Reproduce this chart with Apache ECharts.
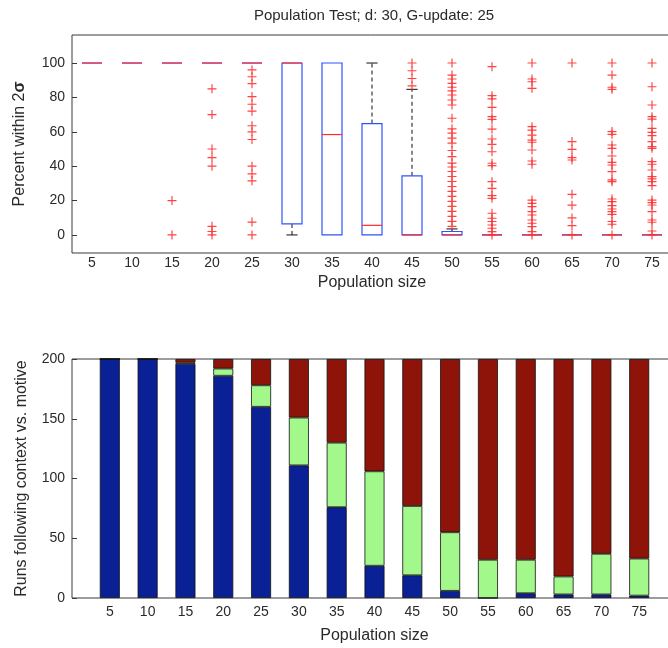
<!DOCTYPE html>
<html>
<head>
<meta charset="utf-8">
<script src="https://cdn.jsdelivr.net/npm/echarts@6/dist/echarts.min.js"></script>
<style>
  html, body { margin: 0; padding: 0; background: #fff; }
  #chart { width: 668px; height: 648px; }
</style>
</head>
<body>
<div id="chart"></div>
<script>
  // population sizes (x categories, both panels)
  var sizes = [5, 10, 15, 20, 25, 30, 35, 40, 45, 50, 55, 60, 65, 70, 75];

  // top panel: box plot stats, percent within 2 sigma
  var boxQ1 = [100, 100, 100, 100, 100, 6.4, 0, 0, 0, 0, 0, 0, 0, 0, 0];
  var boxMedian = [100, 100, 100, 100, 100, 100, 58.4, 5.6, 0, 0, 0, 0, 0, 0, 0];
  var boxQ3 = [100, 100, 100, 100, 100, 100, 100, 64.8, 34.4, 2, 0, 0, 0, 0, 0];
  var whiskerLow = [100, 100, 100, 100, 100, 0, 0, 0, 0, 0, 0, 0, 0, 0, 0];
  var whiskerHigh = [100, 100, 100, 100, 100, 100, 100, 100, 84.7, 3.5, 0, 0, 0, 0, 0];

  // outliers per population size
  var outlierValues = [
    [],
    [],
    [20, 0],
    [85, 70, 50, 45, 40, 5, 2, 0],
    [96, 92, 88, 80.5, 76, 72, 63.5, 60, 55.5, 40, 35.5, 31.5, 7.5, 0],
    [],
    [],
    [],
    [100, 95.5, 91, 86.7],
    [100, 93, 90.7, 88.2, 85.9, 83.8, 81.4, 78.5, 75.6, 67.9, 61.7, 59.2, 56.3, 53.4, 49.1, 45.6, 41.8, 39.5, 36.9, 34, 31.1, 28.2, 25.3, 22.4, 19.5, 16.6, 13.7, 10.8, 7.9, 5],
    [97.9, 81, 79.1, 74.2, 68.8, 67.2, 61.6, 55.8, 52.7, 48.4, 41.7, 40.3, 31, 27.1, 22.9, 21.3, 12.6, 9.7, 7.8, 5.8, 3.9, 1.9, 0],
    [100, 90.7, 89.1, 85.3, 63, 61, 58.1, 55.2, 53.9, 49.4, 43, 41.1, 20.3, 18.4, 16.5, 13.6, 11.6, 8.7, 6.8, 4.8, 1.9, 0],
    [100, 54.3, 49.8, 45, 43.6, 23.6, 17.3, 9.9, 5.4, 0],
    [100, 93, 85.9, 84.7, 60.1, 58.5, 52.3, 50.4, 45.9, 42.2, 40.7, 36.8, 32, 31, 20.9, 19.4, 17.1, 15.1, 13.6, 12, 7.8, 6.2, 0],
    [100, 86.2, 75.6, 68.8, 67.4, 62, 59.7, 57.8, 54.3, 51.4, 50.4, 42.6, 41.1, 37.8, 33.9, 32.6, 31, 28.7, 20.3, 18.8, 17.4, 13.6, 8.7, 7.4, 2.3, 0]
  ];

  // bottom panel: runs (of 200) following context vs. motive
  var blueRuns = [200, 200, 196, 186, 160, 111, 76, 27, 19, 6, 0, 4, 3, 3, 2];
  var greenRuns = [0, 0, 1, 6, 18, 40, 54, 79, 58, 49, 32, 28, 15, 34, 31];
  var redRuns = [0, 0, 3, 8, 22, 49, 70, 94, 123, 145, 168, 168, 182, 163, 167];

  var positions = sizes.map(function (s, i) { return i + 1; });
  // bottom axis runs 0..16 like the original, empty slots at both ends
  var barCats = [''].concat(sizes.map(String), ['']);
  function padded(arr) { return [null].concat(arr, [null]); }

  var fontFam = '"Liberation Sans", Arial, sans-serif';
  var textCol = '#2a2a2a';

  var boxData = positions.map(function (p, i) {
    return [p, boxQ1[i], boxMedian[i], boxQ3[i], whiskerLow[i], whiskerHigh[i]];
  });
  var outlierData = [];
  outlierValues.forEach(function (vals, i) {
    vals.forEach(function (v) { outlierData.push([i + 1, v]); });
  });

  function renderBox(params, api) {
    var x = api.value(0);
    var q1 = api.value(1), med = api.value(2), q3 = api.value(3);
    var lo = api.value(4), hi = api.value(5);
    var hw = 0.25, cw = 0.14;
    var tl = api.coord([x - hw, q3]);
    var br = api.coord([x + hw, q1]);
    var c = api.coord([x, 0])[0];
    var cl = api.coord([x - cw, 0])[0];
    var cr = api.coord([x + cw, 0])[0];
    var yq1 = api.coord([x, q1])[1], yq3 = api.coord([x, q3])[1];
    var ylo = api.coord([x, lo])[1], yhi = api.coord([x, hi])[1];
    var ymed = api.coord([x, med])[1];
    var kids = [];
    // whiskers
    if (hi > q3) {
      kids.push({ type: 'line', shape: { x1: c, y1: yq3, x2: c, y2: yhi },
        style: { stroke: '#111', lineWidth: 1, lineDash: [4, 3] } });
      kids.push({ type: 'line', shape: { x1: cl, y1: yhi, x2: cr, y2: yhi },
        style: { stroke: '#111', lineWidth: 1 } });
    }
    if (lo < q1) {
      kids.push({ type: 'line', shape: { x1: c, y1: yq1, x2: c, y2: ylo },
        style: { stroke: '#111', lineWidth: 1, lineDash: [4, 3] } });
      kids.push({ type: 'line', shape: { x1: cl, y1: ylo, x2: cr, y2: ylo },
        style: { stroke: '#111', lineWidth: 1 } });
    }
    // box
    kids.push({ type: 'rect', shape: { x: tl[0], y: tl[1], width: br[0] - tl[0], height: br[1] - tl[1] },
      style: { fill: null, stroke: '#2f52ff', lineWidth: 1.2 } });
    // median
    kids.push({ type: 'line', shape: { x1: tl[0], y1: ymed, x2: br[0], y2: ymed },
      style: { stroke: '#ff2a2a', lineWidth: 1.2 } });
    return { type: 'group', children: kids };
  }

  var chart = echarts.init(document.getElementById('chart'), null, { renderer: 'canvas' });

  var labelStyle = { color: textCol, fontSize: 14, fontFamily: fontFam };
  var nameStyle = { color: textCol, fontSize: 16, fontFamily: fontFam };

  var option = {
    animation: false,
    backgroundColor: '#fff',
    title: {
      text: 'Population Test; d: 30, G-update: 25',
      left: 369,
      top: 3,
      textAlign: 'center',
      textStyle: { color: textCol, fontSize: 15, fontWeight: 'normal', fontFamily: fontFam }
    },
    grid: [
      { left: 72, top: 35, right: -4, height: 218, outerBoundsMode: 'none',
        show: true, borderColor: '#3a3a3a', borderWidth: 1 },
      { left: 72, top: 359, right: -9, height: 239, outerBoundsMode: 'none',
        show: true, borderColor: '#3a3a3a', borderWidth: 1 }
    ],
    xAxis: [
      {
        gridIndex: 0, type: 'value', min: 0.5, max: 15.5,
        name: 'Population size', nameLocation: 'middle', nameGap: 22, nameTextStyle: nameStyle,
        axisLine: { show: false }, axisTick: { show: false }, splitLine: { show: false },
        axisLabel: Object.assign({ customValues: positions, margin: 3,
          formatter: function (v) { return sizes[Math.round(v) - 1]; } }, labelStyle)
      },
      {
        gridIndex: 1, type: 'category', data: barCats, boundaryGap: false,
        name: 'Population size', nameLocation: 'middle', nameGap: 30, nameTextStyle: nameStyle,
        axisLine: { show: false }, axisTick: { show: false }, splitLine: { show: false },
        axisLabel: Object.assign({ interval: 0, margin: 7 }, labelStyle)
      }
    ],
    yAxis: [
      {
        gridIndex: 0, type: 'value', min: -10.5, max: 116.3,
        name: 'Percent within 2{s|σ}', nameLocation: 'middle', nameGap: 44,
        nameTextStyle: Object.assign({ rich: { s: { fontSize: 16, fontWeight: 'bold', fontFamily: fontFam, color: textCol } } }, nameStyle),
        axisLine: { show: false }, splitLine: { show: false },
        axisTick: { show: true, inside: true, length: 5, customValues: [0, 20, 40, 60, 80, 100], lineStyle: { color: '#3a3a3a' } },
        axisLabel: Object.assign({ customValues: [0, 20, 40, 60, 80, 100], margin: 7 }, labelStyle)
      },
      {
        gridIndex: 1, type: 'value', min: 0, max: 200, interval: 50,
        name: 'Runs following context vs. motive', nameLocation: 'middle', nameGap: 42, nameTextStyle: nameStyle,
        axisLine: { show: false }, splitLine: { show: false },
        axisTick: { show: true, inside: true, length: 5, lineStyle: { color: '#3a3a3a' } },
        axisLabel: Object.assign({ margin: 7 }, labelStyle)
      }
    ],
    series: [
      {
        type: 'custom', name: 'box', xAxisIndex: 0, yAxisIndex: 0,
        renderItem: renderBox, data: boxData,
        encode: { x: 0, y: [1, 2, 3, 4, 5] }, z: 2
      },
      {
        type: 'scatter', name: 'outliers', xAxisIndex: 0, yAxisIndex: 0,
        data: outlierData,
        symbol: 'path://M4.35,0H5.65V10H4.35Z M0,4.35H10V5.65H0Z',
        symbolSize: 9,
        itemStyle: { color: '#ff3030', opacity: 0.9 }, z: 3
      },
      {
        type: 'bar', name: 'blue', xAxisIndex: 1, yAxisIndex: 1, stack: 'runs', barWidth: 20,
        data: padded(blueRuns),
        itemStyle: { color: '#0a2196', borderColor: '#111', borderWidth: 0.8 }
      },
      {
        type: 'bar', name: 'green', xAxisIndex: 1, yAxisIndex: 1, stack: 'runs', barWidth: 20,
        data: padded(greenRuns),
        itemStyle: { color: '#a2f88b', borderColor: '#111', borderWidth: 0.8 }
      },
      {
        type: 'bar', name: 'red', xAxisIndex: 1, yAxisIndex: 1, stack: 'runs', barWidth: 20,
        data: padded(redRuns),
        itemStyle: { color: '#8e1409', borderColor: '#111', borderWidth: 0.8 }
      }
    ]
  };

  chart.setOption(option);
</script>
</body>
</html>
